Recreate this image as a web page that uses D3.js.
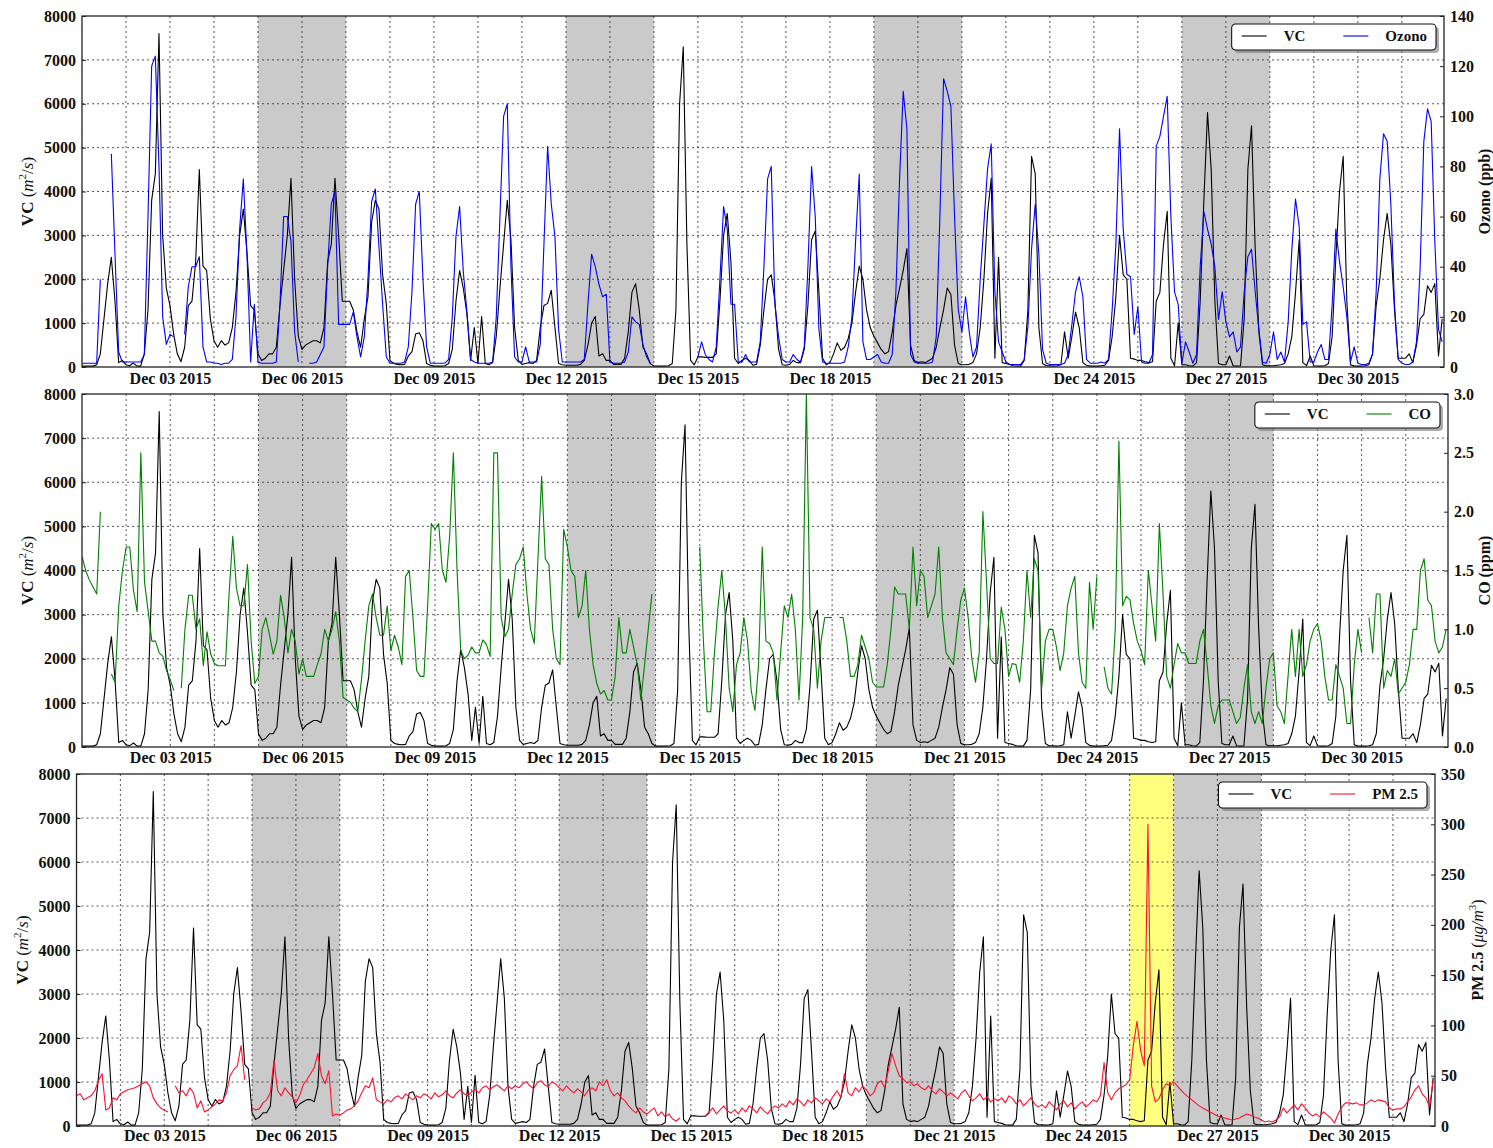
<!DOCTYPE html>
<html>
<head>
<meta charset="utf-8">
<script src="https://cdn.jsdelivr.net/npm/d3@7"></script>
<style>
  body { margin: 0; background: #fff; }
  svg { display: block; }
  text { font-family: "Liberation Serif", "Times New Roman", serif; }
</style>
</head>
<body>
<svg id="chart" width="1493" height="1148"></svg>
<script>
// values every 2 hours from Dec 01 2015 00:00, one row per day
const vc = [
  20, 20, 20, 20, 50, 300, 1100, 1900, 2500, 1500, 100, 150,
  50, 30, 90, 20, 20, 300, 1300, 3800, 4400, 7600, 3000, 1800,
  1400, 750, 300, 120, 450, 1400, 1500, 2400, 4500, 2300, 2200, 1100,
  600, 450, 600, 500, 550, 900, 1700, 3000, 3600, 2600, 1400, 1300,
  300, 150, 200, 300, 300, 450, 1400, 2200, 3000, 4300, 2000, 700,
  400, 500, 550, 600, 600, 550, 900, 2400, 2800, 4300, 3000, 1500,
  1500, 1500, 1300, 800, 450, 1100, 1600, 3300, 3800, 3600, 2100, 1450,
  150, 80, 60, 50, 60, 250, 350, 750, 780, 600, 80, 40,
  20, 20, 20, 30, 80, 400, 1500, 2200, 1800, 1200, 150, 900,
  80, 1150, 80, 50, 100, 700, 1800, 2800, 3800, 2900, 900, 150,
  60, 80, 100, 80, 150, 900, 1400, 1450, 1750, 900, 80, 50,
  40, 40, 40, 40, 60, 150, 500, 1000, 1150, 250, 300, 150,
  150, 60, 60, 60, 200, 800, 1700, 1900, 1300, 450, 300, 80,
  20, 20, 20, 20, 30, 80, 1300, 6000, 7300, 2800, 150, 50,
  230, 230, 220, 220, 220, 300, 1500, 3000, 3500, 2400, 200, 80,
  150, 200, 150, 40, 60, 500, 1300, 2000, 2100, 1500, 400, 50,
  40, 60, 150, 100, 100, 400, 1400, 2900, 3100, 1700, 200, 50,
  100, 300, 550, 380, 450, 650, 1000, 1700, 2300, 2000, 1300, 900,
  700, 550, 400, 300, 350, 800, 1400, 1800, 2200, 2700, 500, 150,
  100, 120, 100, 150, 200, 450, 900, 1300, 1800, 1650, 500, 80,
  50, 50, 60, 100, 300, 900, 2000, 3500, 4300, 200, 2500, 100,
  80, 60, 30, 20, 20, 150, 1300, 4800, 4400, 900, 80, 30,
  30, 20, 30, 50, 800, 200, 700, 1250, 900, 100, 40, 20,
  20, 20, 30, 40, 150, 700, 1600, 3000, 2100, 2000, 200, 180,
  150, 150, 120, 100, 120, 1500, 1700, 2800, 3550, 200, 30, 1000,
  50, 50, 30, 20, 100, 1500, 3800, 5800, 4500, 1500, 80, 50,
  50, 250, 30, 20, 30, 1100, 4500, 5500, 2700, 800, 50, 30,
  30, 30, 40, 50, 80, 300, 700, 1700, 2900, 100, 30, 250,
  30, 20, 20, 30, 80, 700, 2500, 4000, 4800, 1500, 50, 20,
  20, 20, 30, 50, 300, 1400, 2000, 2900, 3500, 2800, 1300, 200,
  200, 200, 300, 100, 500, 1100, 1200, 1850, 1700, 1900, 250, 1100
];

const ozone = [
  1.5, 1.5, 1.5, 1.5, 1.5, 35, null, null, 85, 45, 6, 2,
  2, 2, 2, 2, 2, 5, 60, 120, 124, 80, 20, 9,
  13, 12, null, null, 13, 32, 40, 40, 44, 8, 2, 2,
  1.5, 1.5, 1, 1.5, 1.5, 3, 20, 55, 75, 45, 2, 25,
  2, 1.5, 1.5, 1.5, 1.5, 2, 25, 60, 60, 50, 14, 2,
  null, null, 1.5, 1.5, 2, 5, 8, 40, 65, 70, 17, 17,
  17, 17, 22, 12, 4, 12, 35, 66, 71, 48, 25, 4,
  1.5, 1.5, 1.5, 1.5, 2, 8, 30, 65, 70, 35, 8, 1.5,
  1.5, 1.5, 1.5, 1.5, 3, 20, 52, 64, 38, 22, 3, 2,
  1.5, 1.5, 1.5, 1.5, 2, 20, 60, 100, 105, 40, 4, 2,
  2, 8, 2, 2, 2, 9, 49, 88, 65, 52, 15, 2,
  2, 2, 2, 2, 2, 3, 25, 45, 40, 33, 28, 29,
  2, 1.5, 1.5, 1.5, 2, 6, 20, 18, 17, 9, 4, 1.5,
  null, null, null, null, null, null, null, null, null, null, null, null,
  4, 10, 5, 3, 2, 8, 35, 64, 55, 25, 25, 2,
  2, 5, 2, 2, 2, 10, 40, 75, 80, 25, 12, 3,
  2, 2, 5, 3, 2, 8, 40, 80, 60, 15, 2, 1.5,
  1.5, 1.5, 1.5, 1.5, 2, 8, 20, 50, 77, 10, 3, 3,
  4, 5, 2, 1.5, 1.5, 5, 30, 75, 110, 95, 5, 2,
  1.5, 1.5, 1.5, 1.5, 2, 12, 60, 115, 110, 104, 60, 23,
  14, 28, 14, 4, 8, 35, 57, 79, 89, 30, 10, 6,
  2, 1, 1, 1, 1, 3, 16, 47, 65, 45, 7, 1.5,
  1, 1, 1, 1, 1.5, 5, 17, 30, 36, 28, 3, 1.5,
  1.5, 1.5, 2, 1.5, 3, 23, 49, 95, 55, 37, 36, 13,
  24, 2, 1.5, 1.5, 5, 88, 92, 100, 108, 60, 30, 25,
  1.5, 10, 6, 1.5, 5, 40, 62, 55, 49, 40, 19, 30,
  18, 12, 14, 6, 8, 30, 44, 47, 30, 15, 2, 1.5,
  5, 14, 3, 6, 2, 18, 47, 67, 56, 17, 18, 2,
  2, 6, 9, 3, 3, 25, 55, 42, 32, 20, 2, 8,
  1.5, 1, 1, 1.5, 5, 30, 75, 93, 90, 65, 25, 3,
  1.5, 1, 1, 2, 10, 40, 90, 103, 98, 50, 15, 10
];

const co = [
  1.62, 1.5, 1.42, 1.36, 1.3, 2.0, null, null, 0.62, 0.55, 1.2, 1.5,
  1.7, 1.7, 1.33, 1.15, 2.5, 1.4, 1.15, 0.9, 0.9, 0.8, 0.77, 0.65,
  0.57, 0.48, null, 0.5, 1.0, 1.29, 1.29, 1.0, 1.09, 0.69, 0.98, 0.79,
  0.71, 0.69, 0.69, 0.69, 1.3, 1.79, 1.35, 1.2, 1.2, 1.55, 0.9, 0.54,
  0.6, 1.0, 1.1, 0.95, 0.79, 0.9, 1.29, 1.1, 0.8, 1.0, 0.9, 0.62,
  0.75, 0.6, 0.6, 0.6, 0.7, 0.79, 1.0, 0.9, 1.0, 1.15, 0.9, 0.42,
  0.4, 0.38, 0.33, 0.3, 0.57, 0.9, 1.2, 1.3, 1.1, 0.95, 0.95, 1.2,
  0.82, 0.95, 0.85, 0.7, 1.45, 1.5, 1.1, 0.65, 0.6, 0.6, 1.2, 1.9,
  1.85, 1.9, 1.5, 1.4, 1.8, 2.5, 1.5, 0.82, 0.75, 0.78, 0.85, 0.8,
  0.8, 0.91, 0.87, 0.77, 2.5, 2.5, 1.1, 0.94, 1.0, 1.3, 1.55, 1.6,
  1.7, 1.3, 1.0, 0.88, 1.6, 2.3, 1.6, 1.55, 1.0, 0.75, 0.7, 1.85,
  1.7, 1.5, 1.45, 1.1, 1.2, 1.5, 1.0, 0.7, 0.54, 0.45, 0.48, 0.4,
  0.4, 0.6, 1.1, 0.8, 0.8, 1.0, 0.85, 0.7, 0.4, 0.7, 1.0, 1.3,
  null, null, null, null, null, null, null, null, null, null, null, null,
  1.7, 0.9, 0.3, 0.3, 0.8, 1.2, 1.5, 1.1, 0.5, 0.3, 0.7, 0.8,
  1.1, 0.9, 0.48, 0.31, 0.7, 1.7, 0.9, 0.88, 0.8, 0.4, 0.8, 1.2,
  1.1, 1.3, 1.0, 0.4, 1.1, 3.0, 1.1, 1.0, 0.5, 0.9, 1.1, 1.1,
  1.1, null, 1.1, 1.1, 0.9, 0.6, 0.6, 0.7, 0.95, 0.85, 0.75, 0.55,
  0.51, 0.51, 0.51, 0.7, 1.0, 1.36, 1.3, 1.3, 1.3, 1.0, 1.7, 1.2,
  1.5, 1.45, 1.1, 1.2, 1.3, 1.7, 1.1, 0.8, 0.75, 0.7, 1.0, 1.25,
  1.35, 1.1, 0.75, 0.55, 0.8, 2.0, 1.4, 0.75, 0.71, 0.71, 1.19, 1.0,
  0.6, 0.71, 0.7, 0.55, 0.9, 1.5, 1.1, 1.6, 1.5, 0.5, 0.9, 1.0,
  1.0, 0.85, 0.65, 0.8, 1.2, 1.35, 1.45, 0.8, 0.55, 0.5, 1.4, 1.0,
  1.45, null, 0.68, 0.5, 0.45, 1.0, 2.6, 1.2, 1.28, 1.25, 1.05, 0.9,
  0.82, 0.7, 1.5, 1.2, 0.9, 1.9, 1.3, 0.6, 0.5, 0.7, 0.88, 0.8,
  0.8, 0.71, 0.71, 0.71, 0.9, 1.0, 0.7, 0.35, 0.2, 0.35, 0.4, 0.4,
  0.4, 0.3, 0.2, 0.25, 0.5, 0.7, 0.3, 0.2, 0.3, 0.2, 0.5, 0.75,
  0.8, 0.35, 0.3, 0.2, 0.6, 1.0, 0.6, 1.0, 0.6, 0.7, 0.9, 1.0,
  1.05, 0.9, 0.6, 0.4, 0.4, 0.7, 0.6, 0.5, 0.2, 0.2, 0.7, 1.0,
  0.8, null, 1.1, 0.8, 1.3, 1.3, 0.5, 0.65, 0.6, 0.75, 0.45, 0.5,
  0.55, 0.7, 1.0, 1.0, 1.5, 1.6, 1.25, 1.2, 0.9, 0.8, 0.85, 1.0
];

const pm25 = [
  30, 32, 26, 28, 30, 35, 45, 52, 16, 18, 28, 26,
  32, 34, 36, 37, 38, 40, 42, 44, 40, 28, 22, 18,
  16, 14, null, 40, 33, 35, 30, 38, 33, 18, 25, 14,
  16, 19, 22, 26, 25, 33, 50, 56, 60, 80, 46, null,
  18, 16, 17, 23, 26, 33, 65, 35, 30, 38, 33, 29,
  23, 30, 41, 46, 52, 58, 72, 50, 42, 55, 10, 12,
  11, 13, 16, 17, 20, 25, 33, 40, 38, 48, 26, 24,
  22, 26, 24, 28, 30, 27, 32, 29, 26, 30, 28, 32,
  30, 27, 33, 29, 31, 35, 30, 28, 33, 36, 32, 30,
  34, 36, 33, 38, 40, 36, 39, 41, 38, 35, 40, 37,
  40, 38, 42, 44, 40, 37, 43, 45, 41, 39, 44, 42,
  38, 35, 40, 36, 33, 37, 34, 30, 36, 38, 35, 44,
  40, 46, 35, 30, 33, 28, 25, 20, 16, 13, 18, 14,
  12, 15, 18, 10, 14, 9, 12, 7, 5, 8, null, null,
  null, null, null, null, 10, 14, 18, 12, 16, 20, 15, 13,
  16, 12, 18, 14, 20, 17, 13, 19, 15, 12, 17, 20,
  18, 22, 19, 25, 21, 27, 24, 20, 26, 23, 28, 25,
  22, 27, 24, 30, 35, 28, 52, 33, 30, 38, 34, 40,
  36, 30, 33, 42, 45, 38, 55, 72, 60, 50, 47, 43,
  44, 40, 42, 38, 36, 40, 35, 32, 37, 34, 30, 33,
  30, 27, 33, 36, 30, 25, 28, 32, 26, 29, 24, 27,
  25, 28, 23, 30, 27, 22, 26, 20, 24, 28, 22, 19,
  21, 18, 24, 20, 16, 22, 25, 19, 23, 17, 21, 24,
  19, 22, 26, 24, 30, 63, 33, 26, 33, 37, 39, 41,
  46, 80, 104, 75, 60, 300, 40, 24, 27, 36, 42, 40,
  44, 40, 36, 32, 29, 26, 23, 20, 18, 16, 14, 12,
  10, 9, 8, 7, 6, 7, 8, 10, 12, 11, 9, 8,
  6, 4, 5, 4, 6, 9, 18, 13, 17, 21, 16, 22,
  18, 13, 10, 12, 9, 14, 11, 8, 3, 12, 19, 23,
  23, 22, 23, 21, 21, 23, 26, 24, 26, 25, 24, 18,
  16, 17, 17, 19, 24, 29, 36, 40, 32, 28, 19, 45
];

const weekendStarts = ["2015-12-05", "2015-12-12", "2015-12-19", "2015-12-26"];
const holidays = ["2015-12-25"];
const labelDays = ["2015-12-03", "2015-12-06", "2015-12-09", "2015-12-12", "2015-12-15",
                   "2015-12-18", "2015-12-21", "2015-12-24", "2015-12-27", "2015-12-30"];
const vcTicks = [0, 1000, 2000, 3000, 4000, 5000, 6000, 7000, 8000];
const ozoneTicks = [0, 20, 40, 60, 80, 100, 120, 140];
const coTicks = [0, 0.5, 1.0, 1.5, 2.0, 2.5, 3.0];
const pmTicks = [0, 50, 100, 150, 200, 250, 300, 350];

const parseDay = d3.timeParse("%Y-%m-%d");
const start = parseDay("2015-12-01");
const end = d3.timeHour.offset(start, 30 * 24 + 23);
const times = vc.map((v, i) => d3.timeHour.offset(start, 2 * i));

const svg = d3.select('#chart');

const panels = [
  { left: 82, right: 1444, top: 16, bottom: 367, data: ozone, name: 'Ozono', color: '#0000ff',
    domain: [0, 140], ticks: ozoneTicks, fmt: d3.format('d'), holiday: false,
    leftLabelX: 33, rightLabelX: 1490, xPad: 6 },
  { left: 82, right: 1448, top: 394, bottom: 747, data: co, name: 'CO', color: '#008000',
    domain: [0, 3], ticks: coTicks, fmt: d3.format('.1f'), holiday: false,
    leftLabelX: 33, rightLabelX: 1490, xPad: 5 },
  { left: 76.5, right: 1435, top: 774, bottom: 1126, data: pm25, name: 'PM 2.5', color: '#ff1030',
    domain: [0, 350], ticks: pmTicks, fmt: d3.format('d'), holiday: true,
    leftLabelX: 28, rightLabelX: 1483, xPad: 4 }
];

panels.forEach((p, idx) => {
  const x = d3.scaleTime().domain([start, end]).range([p.left, p.right]);
  const yL = d3.scaleLinear().domain([0, 8000]).range([p.bottom, p.top]);
  const yR = d3.scaleLinear().domain(p.domain).range([p.bottom, p.top]);
  const g = svg.append('g');

  g.append('clipPath').attr('id', 'clip' + idx)
    .append('rect')
    .attr('x', p.left).attr('y', p.top)
    .attr('width', p.right - p.left).attr('height', p.bottom - p.top);

  // weekend and holiday shading
  weekendStarts.forEach(d => {
    const t0 = parseDay(d);
    g.append('rect')
      .attr('x', x(t0)).attr('y', p.top)
      .attr('width', x(d3.timeDay.offset(t0, 2)) - x(t0))
      .attr('height', p.bottom - p.top)
      .attr('fill', '#808080').attr('fill-opacity', 0.42);
  });
  if (p.holiday) {
    holidays.forEach(d => {
      const t0 = parseDay(d);
      g.append('rect')
        .attr('x', x(t0)).attr('y', p.top)
        .attr('width', x(d3.timeDay.offset(t0, 1)) - x(t0))
        .attr('height', p.bottom - p.top)
        .attr('fill', '#ffff00').attr('fill-opacity', 0.5);
    });
  }

  // grid
  const grid = g.append('g').attr('stroke', '#222').attr('stroke-width', 0.9)
    .attr('stroke-dasharray', '2,3').attr('stroke-opacity', 0.85);
  d3.timeDay.range(d3.timeDay.offset(start, 1), end).forEach(t => {
    grid.append('line').attr('x1', x(t)).attr('x2', x(t)).attr('y1', p.top).attr('y2', p.bottom);
  });
  vcTicks.slice(1, -1).forEach(v => {
    grid.append('line').attr('x1', p.left).attr('x2', p.right).attr('y1', yL(v)).attr('y2', yL(v));
  });

  // series
  const plot = g.append('g').attr('clip-path', `url(#clip${idx})`);
  const lineL = d3.line().x((d, i) => x(times[i])).y(d => yL(d)).defined(d => d !== null);
  const lineR = d3.line().x((d, i) => x(times[i])).y(d => yR(d)).defined(d => d !== null);
  plot.append('path').datum(vc)
    .attr('fill', 'none').attr('stroke', '#000').attr('stroke-width', 1.1)
    .attr('stroke-linejoin', 'round').attr('d', lineL);
  plot.append('path').datum(p.data)
    .attr('fill', 'none').attr('stroke', p.color).attr('stroke-width', 1.1)
    .attr('stroke-linejoin', 'round').attr('d', lineR);

  // frame
  g.append('rect')
    .attr('x', p.left).attr('y', p.top)
    .attr('width', p.right - p.left).attr('height', p.bottom - p.top)
    .attr('fill', 'none').attr('stroke', '#222').attr('stroke-width', 1.3);

  // axes
  const axL = g.append('g').attr('transform', `translate(${p.left},0)`)
    .call(d3.axisLeft(yL).tickValues(vcTicks).tickSize(-4).tickPadding(6).tickFormat(d3.format('d')));
  const axR = g.append('g').attr('transform', `translate(${p.right},0)`)
    .call(d3.axisRight(yR).tickValues(p.ticks).tickSize(-4).tickPadding(6).tickFormat(p.fmt));
  const axB = g.append('g').attr('transform', `translate(0,${p.bottom})`)
    .call(d3.axisBottom(x).tickValues(labelDays.map(parseDay)).tickSize(0).tickPadding(p.xPad)
      .tickFormat(d3.timeFormat('%b %d %Y')));
  [axL, axR, axB].forEach(a => {
    a.select('.domain').remove();
    a.attr('font-family', null).attr('font-size', null);
    a.selectAll('text').attr('font-size', 16).attr('font-weight', 'bold').attr('fill', '#111');
    a.selectAll('line').attr('stroke', '#222');
  });

  // axis titles
  const mid = (p.top + p.bottom) / 2;
  const tl = g.append('text')
    .attr('transform', `translate(${p.leftLabelX},${mid}) rotate(-90)`)
    .attr('text-anchor', 'middle').attr('font-size', 17).attr('fill', '#111');
  tl.append('tspan').attr('font-weight', 'bold').text('VC ');
  tl.append('tspan').text('(');
  tl.append('tspan').attr('font-style', 'italic').text('m');
  tl.append('tspan').attr('font-size', 11).attr('dy', -7).text('2');
  tl.append('tspan').attr('dy', 7).text('/');
  tl.append('tspan').attr('font-style', 'italic').text('s');
  tl.append('tspan').text(')');

  const tr = g.append('text')
    .attr('transform', `translate(${p.rightLabelX},${mid}) rotate(-90)`)
    .attr('text-anchor', 'middle').attr('font-size', 16).attr('fill', '#111');
  if (p.name === 'Ozono') {
    tr.append('tspan').attr('font-weight', 'bold').text('Ozono (ppb)');
  } else if (p.name === 'CO') {
    tr.append('tspan').attr('font-weight', 'bold').text('CO (ppm)');
  } else {
    tr.append('tspan').attr('font-weight', 'bold').text('PM 2.5 ');
    tr.append('tspan').text('(');
    tr.append('tspan').attr('font-style', 'italic').text('μg/m');
    tr.append('tspan').attr('font-size', 11).attr('dy', -7).text('3');
    tr.append('tspan').attr('dy', 7).text(')');
  }

  // legend
  const lg = g.append('g');
  const shadow = lg.append('rect');
  const box = lg.append('rect');
  const entries = [{ name: 'VC', color: '#000' }, { name: p.name, color: p.color }];
  let cx = 10;
  entries.forEach(e => {
    lg.append('line').attr('x1', cx).attr('x2', cx + 25).attr('y1', 12).attr('y2', 12)
      .attr('stroke', e.color).attr('stroke-width', 1.1);
    cx += 25 + 17;
    const t = lg.append('text').attr('x', cx).attr('y', 17)
      .attr('font-size', 15).attr('font-weight', 'bold').attr('fill', '#111').text(e.name);
    cx += t.node().getComputedTextLength() + 38;
  });
  const w = cx - 38 + 9;
  shadow.attr('x', 3).attr('y', 3).attr('width', w).attr('height', 26).attr('rx', 4)
    .attr('fill', '#777').attr('fill-opacity', 0.6);
  box.attr('x', 0).attr('y', 0).attr('width', w).attr('height', 26).attr('rx', 4)
    .attr('fill', '#fff').attr('stroke', '#111').attr('stroke-width', 1.1);
  lg.attr('transform', `translate(${p.right - 8 - w},${p.top + 8})`);
});
</script>
</body>
</html>
